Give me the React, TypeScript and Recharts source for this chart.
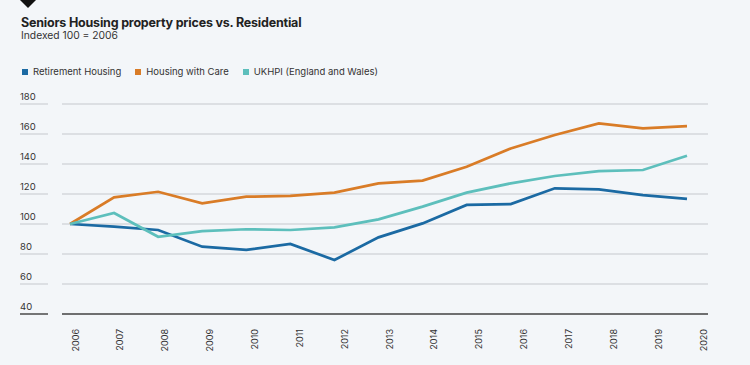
import { CartesianGrid, Line, LineChart, XAxis, YAxis } from "recharts";

const years = ["2006", "2007", "2008", "2009", "2010", "2011", "2012", "2013", "2014", "2015", "2016", "2017", "2018", "2019", "2020"];
const retirementHousing = [100, 98.2, 96, 84.9, 82.7, 86.7, 76, 91.1, 100.4, 112.7, 113.3, 123.8, 123.1, 119.3, 116.7];
const housingWithCare = [100, 117.8, 121.5, 113.8, 118.2, 118.7, 120.9, 127.1, 128.9, 138.2, 150.4, 159.3, 167.1, 163.8, 165.3];
const ukhpi = [100, 107.3, 91.5, 95.3, 96.5, 96, 97.8, 103.1, 111.6, 120.9, 127.1, 132, 135.3, 136, 145.5];
const yTicks = [40, 60, 80, 100, 120, 140, 160, 180];
const yearTicks = years.map(Number);

const BLUE = "#1b6aa3";
const ORANGE = "#d97c27";
const TEAL = "#5dbfbc";
const BG = "#f3f6f9";
const GRID = "#dcdfe3";
const FONT = "Inter, 'Noto Sans', sans-serif";

const series = [
  { key: "retirement", name: "Retirement Housing", color: BLUE },
  { key: "care", name: "Housing with Care", color: ORANGE },
  { key: "ukhpi", name: "UKHPI (England and Wales)", color: TEAL },
];

const data = years.map((y, i) => ({
  year: Number(y),
  period: y,
  retirement: retirementHousing[i],
  care: housingWithCare[i],
  ukhpi: ukhpi[i],
}));

function YTick(props: any) {
  const { y, payload } = props;
  const isBase = payload.value === 40;
  return (
    <g>
      <line x1={20} x2={48} y1={y} y2={y} stroke={isBase ? "#4a4a4a" : GRID} strokeWidth={isBase ? 1.5 : 2} />
      <text x={20} y={y - 8} fontSize={9.5} fill="#333" fontFamily={FONT} dominantBaseline="central">
        {payload.value}
      </text>
    </g>
  );
}

function XTick(props: any) {
  const { x, y, payload } = props;
  const top = y + 7;
  return (
    <text
      x={x}
      y={top}
      transform={`rotate(-90, ${x}, ${top})`}
      textAnchor="end"
      dominantBaseline="central"
      fontSize={9}
      fill="#333"
      fontFamily={FONT}
    >
      {payload.value}
    </text>
  );
}

export default function App() {
  return (
    <div style={{ position: "absolute", left: 0, top: 0, width: 750, height: 365, background: BG, fontFamily: FONT, overflow: "hidden" }}>
      <svg width={40} height={12} style={{ position: "absolute", left: 0, top: 0 }}>
        <polygon points="20,0 36,0 28,8" fill="#111" />
      </svg>
      <div style={{ position: "absolute", left: 21, top: 15, fontSize: 12.5, fontWeight: 700, color: "#222", letterSpacing: -0.2 }}>
        Seniors Housing property prices vs. Residential
      </div>
      <div style={{ position: "absolute", left: 21, top: 29, fontSize: 10.3, color: "#333" }}>Indexed 100 = 2006</div>
      <div style={{ position: "absolute", left: 22, top: 66, display: "flex", fontSize: 9.5, color: "#333" }}>
        {series.map((s) => (
          <div key={s.key} style={{ display: "flex", alignItems: "center", marginRight: 14 }}>
            <span style={{ width: 6, height: 6, background: s.color, display: "inline-block", marginRight: 5 }} />
            <span>{s.name}</span>
          </div>
        ))}
      </div>
      <div style={{ position: "absolute", left: 0, top: 0 }}>
        <LineChart width={750} height={365} data={data} margin={{ top: 104, right: 42, bottom: 11, left: 0 }}>
          <CartesianGrid vertical={false} stroke={GRID} strokeWidth={2} />
          <XAxis
            dataKey="year"
            type="number"
            domain={[2006, 2020]}
            ticks={yearTicks}
            allowDataOverflow
            padding={{ left: 13, right: 5 }}
            height={40}
            tickLine={false}
            axisLine={{ stroke: "#4a4a4a", strokeWidth: 1.5 }}
            tick={<XTick />}
            interval={0}
          />
          <XAxis xAxisId="idx" dataKey="period" type="category" hide padding={{ left: 8, right: 21 }} />
          <YAxis
            domain={[40, 180]}
            ticks={yTicks}
            width={62}
            axisLine={false}
            tickLine={false}
            tick={<YTick />}
            interval={0}
          />
          {series.map((s) => (
            <Line
              key={s.key}
              xAxisId="idx"
              type="linear"
              dataKey={s.key}
              name={s.name}
              stroke={s.color}
              strokeWidth={2.7}
              dot={false}
              isAnimationActive={false}
            />
          ))}
        </LineChart>
      </div>
    </div>
  );
}
